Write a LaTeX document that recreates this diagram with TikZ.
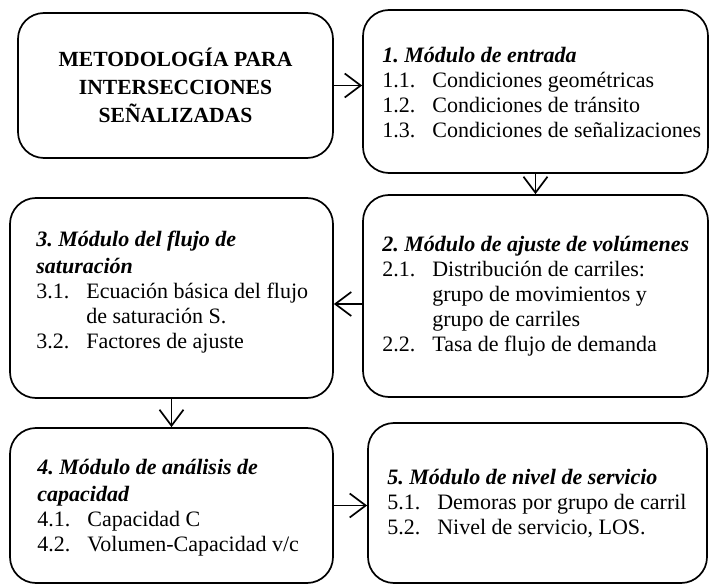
\documentclass[tikz,border=0pt]{standalone}
\usepackage{fontspec}
\setmainfont{Liberation Serif}
\usetikzlibrary{arrows.meta}
\newcommand\itm[2]{\makebox[50pt][l]{#1}#2}
\newcommand\cnt[1]{\hspace*{50pt}#1}
\newcommand\hd[1]{\textbf{\textit{#1}}}
\begin{document}
\frenchspacing
\begin{tikzpicture}[x=1pt,y=-1pt,
  box/.style={draw, line width=1.7pt, rounded corners=26pt, inner sep=0pt},
  txt/.style={anchor=west, inner sep=0pt, align=left, font=\fontsize{22}{25}\selectfont},
  arr/.style={line width=1.7pt, -{Straight Barb[length=16pt,width=24pt]}}]
\useasboundingbox (0,0) rectangle (712,585);
\node[box, align=center, minimum width=315pt, minimum height=145pt,
  font=\fontsize{21.6}{28}\selectfont\bfseries] (b0) at (175.5,85.5)
  {METODOLOGÍA PARA\\INTERSECCIONES\\SEÑALIZADAS};
\node[box, minimum width=345pt, minimum height=163pt] (b1) at (535.5,91.5) {};
\node[box, minimum width=345pt, minimum height=202pt] (b2) at (535.5,296) {};
\node[box, minimum width=323pt, minimum height=200pt] (b3) at (171.5,298) {};
\node[box, minimum width=323pt, minimum height=155pt] (b4) at (171.5,505.5) {};
\node[box, minimum width=339pt, minimum height=160pt] (b5) at (537.5,503) {};
\node[txt] (t1) at ([xshift=20pt,yshift=-1pt]b1.west)
  {\hd{1. Módulo de entrada}\\
   \itm{1.1.}{Condiciones geométricas}\\
   \itm{1.2.}{Condiciones de tránsito}\\
   \itm{1.3.}{Condiciones de señalizaciones}};
\node[txt] (t2) at ([xshift=20pt,yshift=0pt]b2.west)
  {\hd{2. Módulo de ajuste de volúmenes}\\
   \itm{2.1.}{Distribución de carriles:}\\
   \cnt{grupo de movimientos y}\\
   \cnt{grupo de carriles}\\
   \itm{2.2.}{Tasa de flujo de demanda}};
\node[txt] (t3) at ([xshift=27pt,yshift=6pt]b3.west)
  {\hd{3. Módulo del flujo de}\\[2pt]
   \hd{saturación}\\
   \itm{3.1.}{Ecuación básica del flujo}\\
   \cnt{de saturación S.}\\
   \itm{3.2.}{Factores de ajuste}};
\node[txt] (t4) at ([xshift=28pt,yshift=-2pt]b4.west)
  {\hd{4. Módulo de análisis de}\\[2pt]
   \hd{capacidad}\\
   \itm{4.1.}{Capacidad C}\\
   \itm{4.2.}{Volumen-Capacidad v/c}};
\node[txt] (t5) at ([xshift=20pt,yshift=-1pt]b5.west)
  {\hd{5. Módulo de nivel de servicio}\\
   \itm{5.1.}{Demoras por grupo de carril}\\
   \itm{5.2.}{Nivel de servicio, LOS.}};
\draw[arr] (b0.east) -- (b0.east -| b1.west);
\draw[arr] (b1.south) -- (b1.south |- b2.north);
\draw[arr] ([yshift=-8pt]b2.west) -- ([yshift=-8pt]b2.west -| b3.east);
\draw[arr] (b3.south) -- (b3.south |- b4.north);
\draw[arr] (b4.east) -- (b4.east -| b5.west);
\end{tikzpicture}
\end{document}
